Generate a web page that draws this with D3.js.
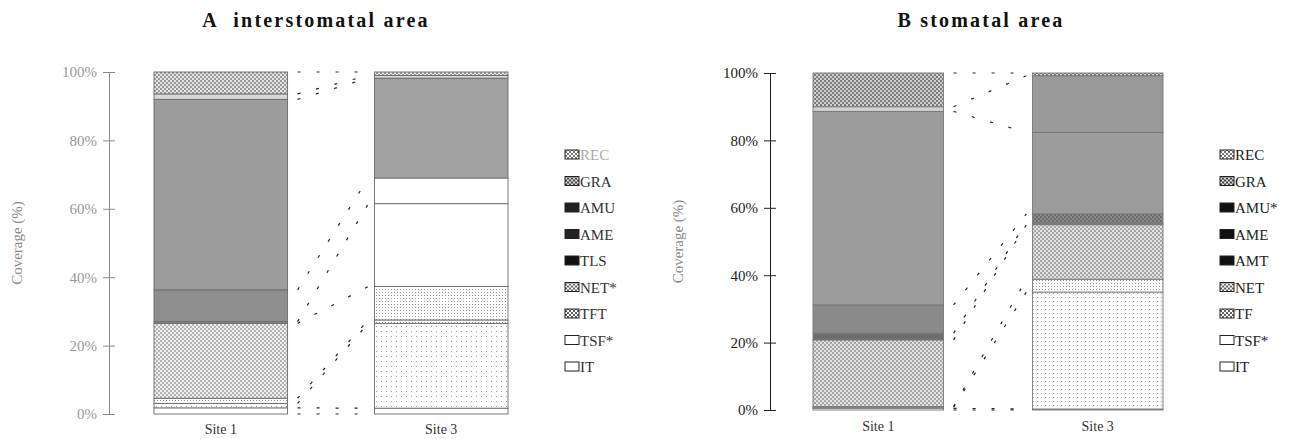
<!DOCTYPE html>
<html><head><meta charset="utf-8">
<script src="https://cdn.jsdelivr.net/npm/d3@7"></script>
<style>
body{margin:0;background:#fff;}
svg{display:block;font-family:"Liberation Serif","Times New Roman",serif;}
</style></head>
<body><svg id="chart" width="1297" height="439"></svg>
<script>
// ---------- data (bottom to top stacking order) ----------
const sites = ["Site 1", "Site 3"];
const categoriesA = ["IT", "TSF*", "TFT", "NET*", "TLS", "AME", "AMU", "GRA", "REC"];
const site1A = [1.8, 1.3, 1.5, 21.9, 0.5, 9.3, 55.7, 1.6, 6.4];
const site3A = [1.7, 24.8, 1.0, 9.8, 24.2, 7.5, 29.2, 0.8, 1.0];
const categoriesB = ["IT", "TSF*", "TF", "NET", "AMT", "AME", "AMU*", "GRA", "REC"];
const site1B = [0.5, 0.3, 0.2, 19.8, 2.0, 8.4, 57.4, 1.4, 10.0];
const site3B = [0.3, 34.7, 3.8, 16.2, 0.5, 2.7, 24.2, 16.8, 0.8];
const yTicks = [0, 20, 40, 60, 80, 100];
const titleA = "A\u00a0\u00a0interstomatal area";
const titleB = "B stomatal area";
const yLabel = "Coverage (%)";

const svg = d3.select("#chart");
const defs = svg.append("defs");

// ---------- patterns ----------
function checker(id, bg, fg, size) {
  const p = defs.append("pattern").attr("id", id).attr("patternUnits", "userSpaceOnUse")
    .attr("width", size * 2).attr("height", size * 2);
  p.append("rect").attr("width", size * 2).attr("height", size * 2).attr("fill", bg);
  p.append("rect").attr("width", size).attr("height", size).attr("fill", fg);
  p.append("rect").attr("x", size).attr("y", size).attr("width", size).attr("height", size).attr("fill", fg);
}
function dots(id, bg, fg, step, r) {
  const p = defs.append("pattern").attr("id", id).attr("patternUnits", "userSpaceOnUse")
    .attr("width", step).attr("height", step);
  p.append("rect").attr("width", step).attr("height", step).attr("fill", bg);
  p.append("rect").attr("x", 1).attr("y", 1).attr("width", r).attr("height", r).attr("fill", fg);
}
checker("recA", "#e4e4e4", "#9a9a9a", 2);
checker("recB", "#d0d0d0", "#7c7c7c", 2);
checker("net", "#eeeeee", "#b4b4b4", 2);
checker("netB", "#e2e2e2", "#a6a6a6", 2);
checker("ameB", "#8a8a8a", "#6c6c6c", 2);
dots("tft", "#ffffff", "#9a9a9a", 3, 1);
dots("tsf", "#ffffff", "#9c9c9c", 5, 1);
dots("tsfB", "#fbfbfb", "#b0b0b0", 4, 1);
checker("legRec", "#ffffff", "#777", 2);
checker("legNet", "#ffffff", "#666", 2);
checker("legGra", "#444", "#ddd", 2);

// ---------- styles ----------
const fillA = {"IT":"#ffffff","TSF*":"url(#tsf)","TFT":"url(#tft)","NET*":"url(#net)","TLS":"#8e8e8e",
  "AME":"#8e8e8e","AMU":"#9c9c9c","GRA":"#d8d8d8","REC":"url(#recA)"};
const fillA3 = {"TLS":"#ffffff","AME":"#ffffff","NET*":"url(#tft)","AMU":"#a2a2a2","REC":"url(#recA)"};
const fillB = {"IT":"#ffffff","TSF*":"url(#tsfB)","TF":"url(#tft)","NET":"url(#netB)","AMT":"#6e6e6e",
  "AME":"#8a8a8a","AMU*":"#9c9c9c","GRA":"#cfcfcf","REC":"url(#recB)"};
const fillB3 = {"AME":"url(#ameB)","GRA":"#9a9a9a","AMT":"#888"};
const legFillA = {"REC":"url(#legRec)","GRA":"url(#legGra)","AMU":"#222","AME":"#222","TLS":"#111",
  "NET*":"url(#legNet)","TFT":"url(#legNet)","TSF*":"#fff","IT":"#fff"};
const legFillB = {"REC":"url(#legRec)","GRA":"url(#legGra)","AMU*":"#111","AME":"#111","AMT":"#111",
  "NET":"url(#legNet)","TF":"url(#legNet)","TSF*":"#fff","IT":"#fff"};

function panel(cfg) {
  const g = svg.append("g");
  const y = d3.scaleLinear().domain([0, 100]).range([cfg.y0, cfg.y1]);
  const x = d3.scaleBand().domain(sites).range([cfg.xl, cfg.xr]).paddingInner(cfg.pad).paddingOuter(0);

  // title
  g.append("text").attr("x", cfg.titleX).attr("y", 27).attr("text-anchor", "middle")
    .attr("font-size", 20).attr("font-weight", "bold").attr("letter-spacing", 2.2)
    .attr("fill", "#111").text(cfg.title);

  // axis
  const ax = g.append("g").attr("transform", `translate(${cfg.axisX},0)`)
    .call(d3.axisLeft(y).tickValues(yTicks).tickFormat(d => d + "%").tickSizeOuter(0).tickSizeInner(6).tickPadding(6));
  ax.select(".domain").attr("stroke", cfg.axisColor);
  ax.selectAll(".tick line").attr("stroke", cfg.axisColor).attr("x2", 6).attr("x1", -6);
  ax.selectAll(".tick text").attr("font-size", 15).attr("fill", cfg.tickColor)
    .attr("font-family", "Liberation Serif, serif").attr("x", -12);

  g.append("text").attr("transform", `translate(${cfg.labelX},${(cfg.y0 + cfg.y1) / 2}) rotate(-90)`)
    .attr("text-anchor", "middle").attr("font-size", 15).attr("fill", "#8a8a8a").text(yLabel);

  // stacks
  const vals = [cfg.s1, cfg.s3];
  const stacks = vals.map(v => {
    let c = 0;
    return v.map((d, i) => { const s = {cat: cfg.cats[i], y0: c, y1: c + d}; c += d; return s; });
  });

  // connector dashed lines between bars
  const bounds = [0].concat(stacks[0].map(s => s.y1));
  const bounds3 = [0].concat(stacks[1].map(s => s.y1));
  g.append("g").selectAll("line").data(bounds).join("line")
    .attr("x1", x("Site 1") + x.bandwidth() + 10).attr("x2", x("Site 3") - 6)
    .attr("y1", d => y(d)).attr("y2", (d, i) => y(bounds3[i]))
    .attr("stroke", "#222").attr("stroke-width", 1.2).attr("stroke-dasharray", "3,16");

  stacks.forEach((st, si) => {
    const site = sites[si];
    g.append("g").selectAll("rect").data(st).join("rect")
      .attr("x", x(site)).attr("width", x.bandwidth())
      .attr("y", d => y(d.y1)).attr("height", d => Math.max(0, y(d.y0) - y(d.y1)))
      .attr("fill", d => (si === 1 && cfg.over3[d.cat]) ? cfg.over3[d.cat] : cfg.fill[d.cat])
      .attr("stroke", cfg.segStroke).attr("stroke-width", 0.9);
    g.append("text").attr("x", x(site) + x.bandwidth() / 2).attr("y", cfg.siteY)
      .attr("text-anchor", "middle").attr("font-size", 14).attr("fill", "#333").text(site);
  });

  // legend (top to bottom = reverse stacking order)
  const legCats = cfg.cats.slice().reverse();
  const lg = g.append("g").selectAll("g").data(legCats).join("g")
    .attr("transform", (d, i) => `translate(${cfg.legX},${155 + i * 26.5})`);
  lg.append("rect").attr("x", 0).attr("y", -5).attr("width", 14).attr("height", 9)
    .attr("fill", d => cfg.legFill[d]).attr("stroke", "#222").attr("stroke-width", 1);
  lg.append("text").attr("x", 15).attr("y", 5).attr("font-size", 15)
    .attr("fill", (d, i) => cfg.legColor(i)).text(d => d);
}

panel({title: titleA, titleX: 316, cats: categoriesA, s1: site1A, s3: site3A,
  y0: 414, y1: 72, xl: 154, xr: 508, pad: 0.394, axisX: 109, labelX: 22,
  axisColor: "#8a8a8a", tickColor: "#999", fill: fillA, over3: fillA3, legFill: legFillA,
  legX: 565, siteY: 434, segStroke: "#6a6a6a",
  legColor: i => i === 0 ? "#aaa" : "#333"});
panel({title: titleB, titleX: 981, cats: categoriesB, s1: site1B, s3: site3B,
  y0: 410, y1: 73, xl: 813, xr: 1163, pad: 0.405, axisX: 770, labelX: 683,
  axisColor: "#222", tickColor: "#222", fill: fillB, over3: fillB3, legFill: legFillB,
  legX: 1220, siteY: 431, segStroke: "#777",
  legColor: i => "#222"});
</script>
</body></html>
